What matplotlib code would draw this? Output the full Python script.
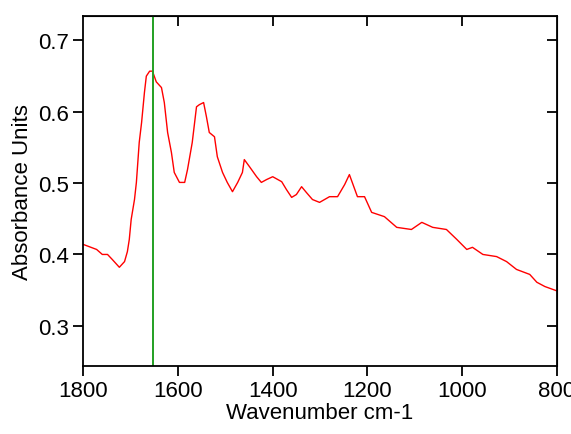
import matplotlib
matplotlib.use("Agg")
import matplotlib.pyplot as plt

# ── Spectrum (wavenumber cm-1, absorbance) ──
wavenumber = [1800, 1772, 1760, 1749, 1739, 1724, 1713, 1707, 1703, 1699,
              1692, 1688, 1682, 1677, 1671, 1667, 1660, 1654, 1646, 1635,
              1629, 1622, 1614, 1608, 1597, 1586, 1580, 1570, 1561, 1555,
              1546, 1540, 1534, 1523, 1517, 1506, 1496, 1485, 1474, 1464,
              1460, 1449, 1434, 1424, 1413, 1400, 1381, 1371, 1360, 1350,
              1339, 1329, 1316, 1301, 1280, 1263, 1248, 1238, 1221, 1206,
              1191, 1164, 1138, 1107, 1085, 1062, 1033, 1011, 990, 978,
              956, 927, 906, 885, 857, 842, 825, 800]
absorbance = [0.414, 0.407, 0.400, 0.400, 0.393, 0.382, 0.390, 0.404, 0.421, 0.449,
              0.477, 0.501, 0.557, 0.585, 0.627, 0.650, 0.657, 0.657, 0.642, 0.634,
              0.613, 0.571, 0.543, 0.515, 0.501, 0.501, 0.519, 0.557, 0.607, 0.610,
              0.613, 0.593, 0.571, 0.565, 0.537, 0.515, 0.501, 0.488, 0.501, 0.515,
              0.533, 0.523, 0.509, 0.501, 0.505, 0.509, 0.502, 0.491, 0.480, 0.484,
              0.495, 0.487, 0.477, 0.473, 0.481, 0.481, 0.498, 0.512, 0.481, 0.481,
              0.459, 0.453, 0.438, 0.435, 0.445, 0.438, 0.435, 0.421, 0.407, 0.410,
              0.400, 0.397, 0.390, 0.379, 0.372, 0.361, 0.355, 0.349]
marker_wn = 1652

x_ticks = [1800, 1600, 1400, 1200, 1000, 800]
y_ticks = [0.3, 0.4, 0.5, 0.6, 0.7]

plt.rcParams["font.family"] = ["Liberation Sans", "DejaVu Sans"]

fig = plt.figure(figsize=(5.71, 4.35), dpi=100)
ax = fig.add_axes([0.146, 0.157, 0.829, 0.805])

ax.plot(wavenumber, absorbance, color="#ff0000", linewidth=1.0)
ax.axvline(marker_wn, color="#22a022", linewidth=1.4)

ax.set_xlim(1800, 800)
ax.set_ylim(0.244, 0.735)
ax.set_xticks(x_ticks)
ax.set_xticklabels([str(v) for v in x_ticks])
ax.set_yticks(y_ticks)
ax.set_yticklabels([f"{v:.1f}" for v in y_ticks])

ax.set_xlabel("Wavenumber cm-1", fontsize=16, labelpad=1)
ax.set_ylabel("Absorbance Units", fontsize=16, labelpad=4)

for s in ax.spines.values():
    s.set_linewidth(1.3)
ax.tick_params(axis="both", which="major", direction="out", length=7,
               width=1.3, labelsize=16, pad=3)
# mirrored ticks on top/right point inward
sec_x = ax.secondary_xaxis("top")
sec_x.set_xticks(x_ticks[1:-1])
sec_x.tick_params(direction="in", length=7, width=1.3, labeltop=False)
sec_y = ax.secondary_yaxis("right")
sec_y.set_yticks(y_ticks)
sec_y.tick_params(direction="in", length=7, width=1.3, labelright=False)

fig.savefig("out.png", dpi=100, facecolor="white")
